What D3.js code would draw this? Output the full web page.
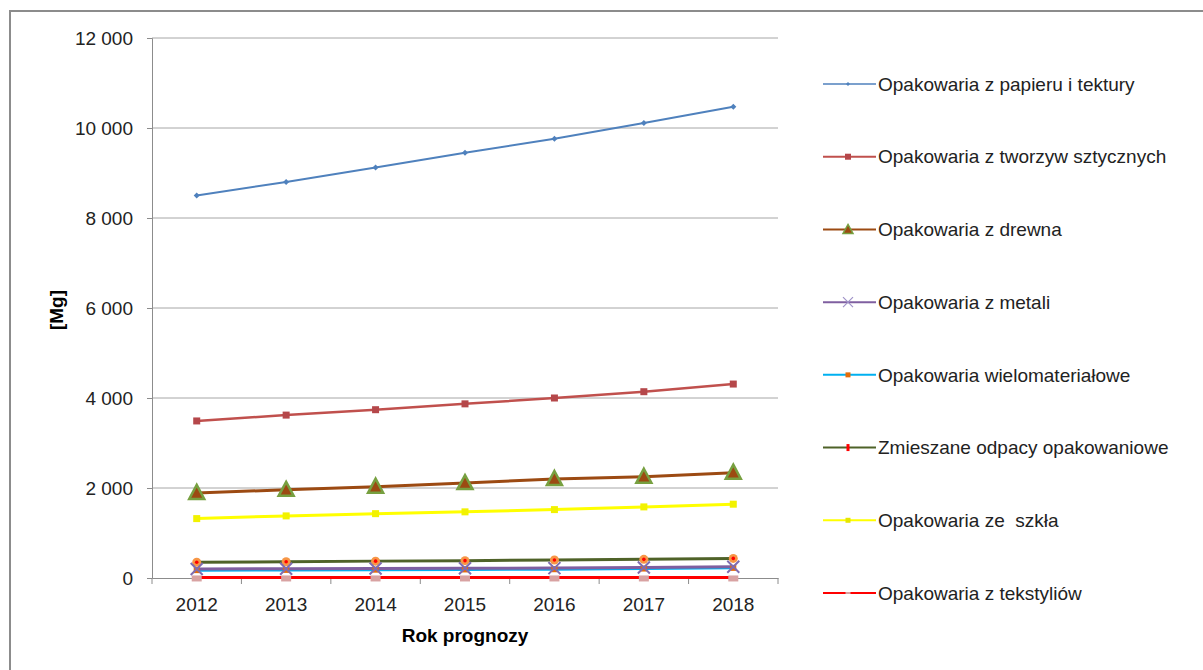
<!DOCTYPE html>
<html><head><meta charset="utf-8">
<script src="https://cdn.jsdelivr.net/npm/d3@7"></script>
<style>body{margin:0;background:#fff;}svg{display:block;font-family:"Liberation Sans",Arial,sans-serif;}</style>
</head><body><svg id="c" width="1203" height="670"></svg>
<script>
const years = ["2012","2013","2014","2015","2016","2017","2018"];
const yTicks = [0,2000,4000,6000,8000,10000,12000];
const seriesNames = ["Opakowaria z papieru i tektury","Opakowaria z tworzyw sztycznych","Opakowaria z drewna","Opakowaria z metali","Opakowaria wielomateriałowe","Zmieszane odpacy opakowaniowe","Opakowaria ze  szkła","Opakowaria z tekstyliów"];
const paper    = [8500, 8800, 9120, 9450, 9760, 10110, 10470];
const plastic  = [3490, 3620, 3740, 3870, 4000, 4140, 4310];
const wood     = [1890, 1960, 2030, 2110, 2200, 2250, 2340];
const metals   = [200, 205, 210, 215, 220, 235, 250];
const multi    = [175, 180, 185, 190, 195, 210, 225];
const mixed    = [350, 360, 375, 385, 400, 415, 435];
const glass    = [1320, 1380, 1430, 1470, 1520, 1580, 1640];
const textiles = [12, 12, 12, 12, 12, 12, 12];
const seriesValues = [paper, plastic, wood, metals, multi, mixed, glass, textiles];
const lineColors = ["#4F81BD","#C0504D","#9C4A12","#7F5FA0","#00B0F0","#4F6228","#FFFF00","#FF0000"];

const FS = 19;
const svg = d3.select("#c");
svg.append("rect").attr("x",10).attr("y",11).attr("width",1220).attr("height",700)
  .attr("fill","none").attr("stroke","#8c8c8c").attr("stroke-width",2);

const L=152, R=778, T=38, B=578;
const x = d3.scaleBand().domain(years).range([L,R]);
const y = d3.scaleLinear().domain([0,12000]).range([B,T]);
const fmt = v => d3.format(",")(v).replace(/,/g," ");

svg.append("g").selectAll("line").data(yTicks.filter(d=>d>0)).join("line")
  .attr("x1",L).attr("x2",R).attr("y1",d=>y(d)).attr("y2",d=>y(d))
  .attr("stroke","#a6a6a6").attr("stroke-width",1);

const gy = svg.append("g").attr("transform",`translate(${L},0)`)
  .call(d3.axisLeft(y).tickValues(yTicks).tickFormat(fmt).tickSize(5).tickPadding(14));
gy.select(".domain").attr("stroke","#8c8c8c");
gy.selectAll(".tick line").attr("stroke","#8c8c8c");
gy.selectAll("text").attr("font-size",FS).attr("fill","#222").attr("font-family","Liberation Sans, Arial, sans-serif");

const gx = svg.append("g").attr("transform",`translate(0,${B})`)
  .call(d3.axisBottom(x).tickSize(0).tickPadding(20));
gx.select(".domain").attr("stroke","#8c8c8c");
gx.selectAll("text").attr("font-size",FS).attr("fill","#222").attr("font-family","Liberation Sans, Arial, sans-serif");
const bounds = years.map(d=>x(d)).concat([R]);
gx.append("g").selectAll("line").data(bounds).join("line")
  .attr("x1",d=>d).attr("x2",d=>d).attr("y1",0).attr("y2",6).attr("stroke","#8c8c8c");

svg.append("text").attr("x",465).attr("y",642).attr("text-anchor","middle")
  .attr("font-size",FS).attr("font-weight","bold").text("Rok prognozy");
svg.append("text").attr("transform","translate(63,310) rotate(-90)").attr("text-anchor","middle")
  .attr("font-size",FS).attr("font-weight","bold").text("[Mg]");

const cx = d => x(d)+x.bandwidth()/2;
const line = d3.line().x((d,i)=>cx(years[i])).y(d=>y(d));

function marker(g, k){
  switch(k){
    case 0: g.append("path").attr("d","M0,-3L3,0L0,3L-3,0Z").attr("fill","#4F81BD"); break;
    case 1: g.append("rect").attr("x",-3.5).attr("y",-3.5).attr("width",7).attr("height",7).attr("fill","#B5474A"); break;
    case 2: g.append("path").attr("d","M0,-8L7.5,6L-7.5,6Z").attr("fill","#9C4A12").attr("stroke","#77A040").attr("stroke-width",2.5); break;
    case 3: g.append("path").attr("d","M-6,-6L6,6M-6,6L6,-6").attr("stroke","#7F6CB0").attr("stroke-width",2); break;
    case 4: g.append("rect").attr("x",-3).attr("y",-3).attr("width",6).attr("height",6).attr("fill","#E46C0A"); break;
    case 5: g.append("circle").attr("r",4.5).attr("fill","#F79646"); g.append("circle").attr("r",1.8).attr("fill","#FF0000"); break;
    case 6: g.append("rect").attr("x",-3.5).attr("y",-3.5).attr("width",7).attr("height",7).attr("fill","#F2F200"); break;
    case 7: g.append("rect").attr("x",-5).attr("y",-2).attr("width",10).attr("height",6).attr("fill","#D8A2A2"); break;
  }
}
function markerLegend(g,k){
  switch(k){
    case 0: g.append("path").attr("d","M0,-2L2,0L0,2L-2,0Z").attr("fill","#4F81BD"); break;
    case 1: g.append("rect").attr("x",-3).attr("y",-3).attr("width",6).attr("height",6).attr("fill","#B5474A"); break;
    case 2: g.append("path").attr("d","M0,-5L5,4L-5,4Z").attr("fill","#9C4A12").attr("stroke","#77A040").attr("stroke-width",1.5); break;
    case 3: g.append("path").attr("d","M-5,-5L5,5M-5,5L5,-5").attr("stroke","#9f92c8").attr("stroke-width",1.2); break;
    case 4: g.append("rect").attr("x",-2.5).attr("y",-2.5).attr("width",5).attr("height",5).attr("fill","#E46C0A"); break;
    case 5: g.append("rect").attr("x",-1.5).attr("y",-3.5).attr("width",3).attr("height",7).attr("fill","#FF0000"); break;
    case 6: g.append("rect").attr("x",-2.5).attr("y",-2.5).attr("width",5).attr("height",5).attr("fill","#E6E600"); break;
    case 7: g.append("rect").attr("x",-2.5).attr("y",-1).attr("width",5).attr("height",2).attr("fill","#D8A2A2"); break;
  }
}

const order = [0,1,2,6,5,4,3,7];
const widths = [2,2.5,3,3,3,3,3,3];
order.forEach(k=>{
  svg.append("path").datum(seriesValues[k]).attr("d",line).attr("fill","none")
    .attr("stroke",lineColors[k]).attr("stroke-width",widths[k]);
});
order.forEach(k=>{
  seriesValues[k].forEach((v,i)=>{
    const g = svg.append("g").attr("transform",`translate(${cx(years[i])},${y(v)})`);
    marker(g,k);
  });
});

const legY = d3.scalePoint().domain(seriesNames).range([84,593]);
seriesNames.forEach((n,k)=>{
  const yy = legY(n);
  svg.append("line").attr("x1",823).attr("x2",876).attr("y1",yy).attr("y2",yy)
    .attr("stroke",lineColors[k]).attr("stroke-width",k===0?1.5:2);
  const g = svg.append("g").attr("transform",`translate(848,${yy})`);
  markerLegend(g,k);
  svg.append("text").attr("x",878).attr("y",yy).attr("dy","0.35em").attr("font-size",FS)
    .style("white-space","pre").attr("fill","#222").text(n);
});
</script></body></html>
